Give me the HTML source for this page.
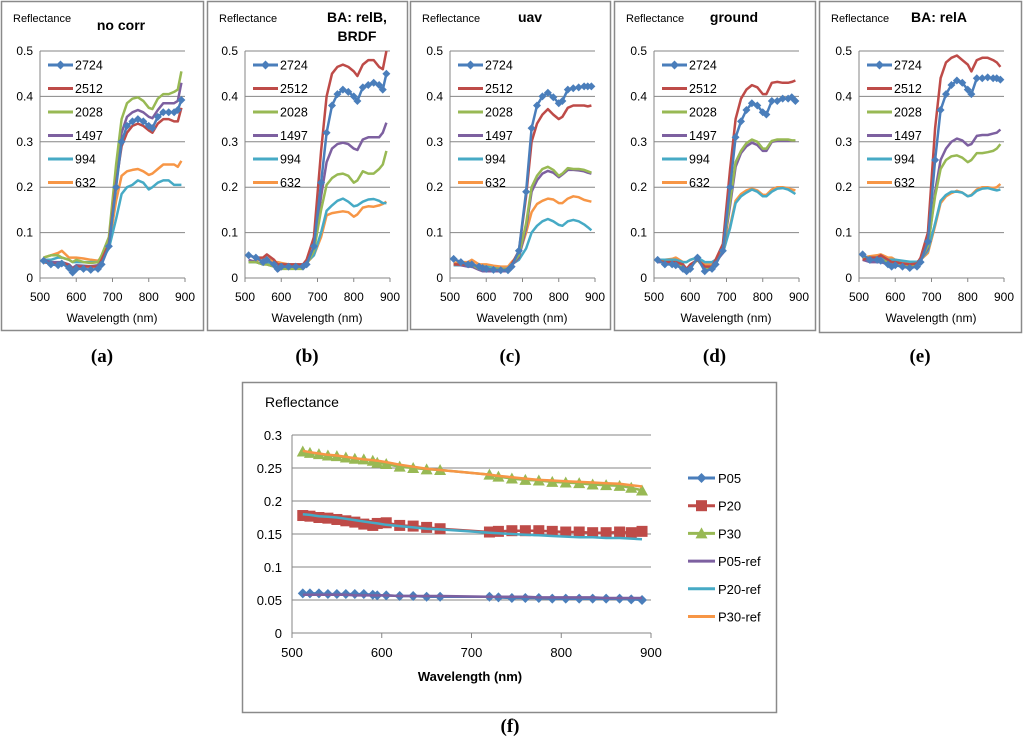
<!DOCTYPE html>
<html><head><meta charset="utf-8"><style>
body{margin:0;background:#fff;width:1024px;height:739px;overflow:hidden}
svg{display:block;font-family:"Liberation Sans",sans-serif}
</style></head><body>
<svg id="fig" width="1024" height="739" viewBox="0 0 1024 739"></svg>
<script>
const wl = [510,530,550,560,580,590,600,620,640,660,670,690,710,725,740,755,770,785,800,810,825,840,855,870,880,890];
const seriesNames = ["2724","2512","2028","1497","994","632"];
const panelTitles = [["no corr"],["BA: relB,","BRDF"],["uav"],["ground"],["BA: relA"]];
const panelLetters = ["(a)","(b)","(c)","(d)","(e)"];
const yTicks = [0,0.1,0.2,0.3,0.4,0.5];
const xTicks = [500,600,700,800,900];
const pA = [
[.038,.030,.028,.032,.022,.012,.020,.020,.018,.020,.030,.07,.20,.30,.335,.345,.350,.345,.335,.330,.355,.365,.365,.365,.370,.392],
[.035,.032,.030,.035,.028,.020,.025,.025,.025,.025,.04,.075,.21,.29,.32,.335,.34,.335,.325,.32,.34,.35,.35,.345,.345,.375],
[.045,.05,.05,.045,.04,.035,.04,.035,.033,.035,.05,.09,.25,.35,.385,.395,.398,.39,.375,.372,.395,.405,.405,.41,.415,.455],
[.04,.035,.035,.035,.03,.022,.028,.027,.026,.028,.045,.08,.23,.32,.355,.365,.37,.365,.355,.352,.37,.385,.385,.385,.39,.43],
[.04,.04,.045,.045,.04,.035,.035,.035,.035,.035,.04,.065,.13,.185,.20,.205,.215,.21,.195,.2,.21,.215,.215,.205,.205,.205],
[.045,.05,.055,.06,.045,.045,.045,.043,.04,.038,.045,.07,.17,.225,.235,.238,.24,.235,.227,.23,.24,.25,.25,.25,.245,.258]];
const pB = [
[.05,.045,.035,.04,.03,.02,.025,.025,.025,.025,.03,.07,.21,.32,.38,.405,.415,.41,.40,.39,.42,.425,.43,.425,.415,.45],
[.05,.045,.045,.052,.04,.03,.03,.03,.03,.03,.04,.09,.28,.40,.45,.465,.47,.465,.455,.445,.47,.48,.48,.465,.46,.50],
[.035,.035,.03,.03,.025,.02,.02,.02,.02,.02,.03,.06,.15,.205,.22,.228,.23,.225,.21,.215,.235,.23,.23,.24,.25,.28],
[.04,.035,.03,.03,.025,.015,.022,.022,.022,.022,.03,.065,.18,.255,.285,.295,.298,.295,.285,.282,.305,.31,.31,.31,.32,.342],
[.035,.035,.03,.033,.032,.03,.03,.03,.03,.03,.035,.05,.10,.148,.16,.17,.175,.168,.158,.16,.168,.173,.174,.17,.165,.165],
[.035,.038,.042,.045,.035,.035,.033,.03,.028,.027,.033,.05,.09,.138,.143,.145,.147,.145,.135,.14,.155,.158,.157,.16,.163,.168]];
const pC = [
[.042,.035,.03,.03,.025,.022,.02,.018,.017,.017,.025,.06,.19,.33,.38,.40,.408,.398,.385,.39,.415,.418,.42,.422,.422,.422],
[.03,.03,.03,.03,.025,.02,.02,.018,.017,.018,.03,.06,.18,.30,.34,.36,.372,.36,.35,.355,.375,.38,.38,.38,.378,.38],
[.03,.03,.03,.03,.02,.02,.02,.02,.02,.018,.03,.05,.12,.20,.225,.24,.245,.238,.225,.23,.242,.24,.24,.238,.235,.232],
[.03,.028,.025,.025,.018,.015,.015,.015,.015,.015,.028,.045,.11,.19,.215,.23,.236,.232,.222,.228,.238,.238,.237,.235,.232,.23],
[.028,.028,.03,.03,.025,.025,.025,.022,.02,.02,.03,.04,.065,.10,.115,.125,.13,.125,.117,.115,.125,.128,.125,.118,.112,.105],
[.033,.035,.035,.04,.03,.03,.03,.027,.025,.025,.035,.05,.10,.145,.163,.17,.175,.173,.165,.165,.175,.18,.178,.172,.17,.168]];
const pD = [
[.04,.03,.03,.028,.02,.015,.02,.045,.015,.02,.03,.06,.20,.31,.345,.37,.385,.38,.365,.36,.39,.39,.395,.395,.398,.39],
[.038,.035,.035,.035,.03,.02,.03,.04,.025,.025,.04,.075,.24,.35,.395,.415,.425,.42,.405,.405,.43,.432,.43,.43,.432,.435],
[.04,.035,.035,.035,.025,.02,.025,.04,.022,.022,.035,.06,.17,.255,.28,.297,.305,.3,.285,.285,.302,.305,.305,.305,.303,.303],
[.035,.035,.03,.032,.025,.018,.025,.04,.02,.022,.035,.055,.16,.245,.275,.29,.298,.293,.28,.28,.3,.302,.302,.302,.302,.302],
[.04,.04,.04,.04,.035,.035,.04,.045,.035,.035,.04,.055,.11,.165,.18,.188,.195,.19,.18,.18,.19,.197,.198,.195,.19,.185],
[.038,.04,.042,.045,.035,.035,.04,.045,.03,.03,.04,.055,.115,.17,.185,.193,.197,.193,.183,.183,.195,.2,.2,.198,.195,.193]];
const pE = [
[.052,.04,.04,.038,.03,.025,.028,.025,.022,.025,.035,.08,.26,.37,.405,.425,.435,.43,.415,.405,.44,.44,.442,.44,.44,.437],
[.04,.045,.045,.05,.04,.035,.035,.032,.03,.032,.045,.10,.33,.44,.475,.485,.49,.48,.47,.455,.48,.485,.485,.48,.475,.465],
[.045,.045,.04,.04,.035,.03,.03,.028,.027,.028,.04,.07,.18,.24,.26,.268,.27,.265,.255,.26,.275,.275,.277,.28,.285,.295],
[.04,.035,.035,.035,.03,.028,.028,.027,.027,.028,.04,.065,.19,.26,.285,.30,.307,.303,.292,.295,.313,.315,.315,.318,.32,.327],
[.045,.045,.045,.045,.04,.04,.04,.038,.036,.036,.04,.06,.12,.17,.183,.19,.19,.188,.18,.182,.192,.197,.198,.195,.193,.195],
[.045,.048,.05,.052,.045,.045,.04,.037,.035,.035,.04,.055,.115,.165,.18,.187,.192,.188,.18,.183,.195,.2,.2,.198,.2,.207]];
const panels = [pA,pB,pC,pD,pE];

const wlF = [512,520,530,540,550,560,570,580,590,595,605,620,635,650,665,720,730,745,760,775,790,805,820,835,850,865,878,890];
const fNames = ["P05","P20","P30","P05-ref","P20-ref","P30-ref"];
const fP05 = [.06,.06,.06,.059,.059,.059,.059,.059,.058,.057,.057,.056,.056,.055,.055,.055,.054,.053,.053,.053,.052,.052,.052,.052,.052,.052,.051,.05];
const fP20 = [.178,.177,.175,.174,.172,.170,.168,.165,.163,.166,.167,.163,.162,.160,.158,.153,.154,.155,.155,.155,.154,.153,.153,.152,.152,.153,.152,.154];
const fP30 = [.275,.273,.271,.269,.268,.266,.264,.263,.261,.258,.256,.252,.25,.248,.247,.24,.237,.234,.232,.231,.229,.228,.227,.225,.224,.223,.22,.216];
const fP05r = [.058,.058,.058,.058,.058,.058,.057,.057,.057,.057,.057,.056,.056,.056,.056,.055,.055,.055,.055,.054,.054,.054,.054,.054,.053,.053,.053,.053];
const fP20r = [.18,.179,.177,.176,.175,.173,.171,.169,.167,.166,.164,.162,.160,.158,.157,.152,.151,.150,.149,.148,.147,.146,.145,.145,.144,.144,.143,.142];
const fP30r = [.276,.274,.272,.270,.269,.267,.265,.263,.262,.261,.259,.255,.252,.249,.247,.24,.238,.236,.234,.232,.231,.230,.229,.228,.227,.226,.224,.222];
const fYTicks = [0,0.05,0.1,0.15,0.2,0.25,0.3];

const colors = ["#4a7ebb","#be4b48","#98b954","#7d60a0","#46aac5","#f79646"];
const NS = "http://www.w3.org/2000/svg";
const svg = document.getElementById("fig");
function mk(tag, attrs, parent){const e=document.createElementNS(NS,tag);for(const k in attrs)e.setAttribute(k,attrs[k]);(parent||svg).appendChild(e);return e;}
function txt(s, attrs, parent){const t=mk("text",attrs,parent);t.textContent=s;return t;}
function diamond(x,y,r){return `M${x},${y-r}L${x+r},${y}L${x},${y+r}L${x-r},${y}Z`;}

const boxes = [[1,1,202,329],[207,1,200,329],[410,1,200,328],[614,1,201,329],[819,1,202,331]];
const lefts = [40,245,450,654,859];
for (let p=0;p<5;p++){
  const g = mk("g",{});
  
  
  const b=boxes[p];
  const box=mk("rect",{x:b[0]+.5,y:b[1]+.5,width:b[2],height:b[3],fill:"none",stroke:"#8a8a8a","stroke-width":1.5},g);
  
  
  const L=lefts[p], R=L+145, Y0=278, Y1=51;
  const xs=v=>L+(v-500)/400*(R-L);
  const ys=v=>Y0-(v/0.5)*(Y0-Y1);
  for(const t of yTicks){
    const gl=mk("line",{x1:L,x2:R,y1:ys(t),y2:ys(t),stroke:"#868686","stroke-width":1},g);
    
    
    const tl=txt(String(t),{x:L-7,y:ys(t)+4,"text-anchor":"end","font-size":12,fill:"#000"},g);
    
    
  }
  mk("line",{x1:L,x2:L,y1:Y1,y2:Y0,stroke:"#868686"},g);
  for(const t of xTicks){
    mk("line",{x1:xs(t),x2:xs(t),y1:Y0,y2:Y0+4,stroke:"#868686"},g);
    const tl=txt(String(t),{x:xs(t),y:Y0+23,"text-anchor":"middle","font-size":12},g);
    
    
  }
  const xl=txt("Wavelength (nm)",{x:L+72,y:322,"text-anchor":"middle","font-size":12},g);
  
  
  const yl=txt("Reflectance",{x:b[0]+12,y:22,"font-size":11},g);
  
  
  const tt=panelTitles[p];
  tt.forEach((s,i)=>{
    const tx = tt.length>1 ? b[0]+150 : b[0]+120;
    const t=txt(s,{x:tx,y:(p===0?30:22)+i*19,"text-anchor":"middle","font-size":14,"font-weight":"bold"},g);
    
    
  });
  const data=panels[p];
  for(let s=5;s>=0;s--){
    const d=data[s].map((v,i)=>(i?"L":"M")+xs(wl[i]).toFixed(1)+","+ys(v).toFixed(1)).join("");
    const path=mk("path",{d:d,fill:"none",stroke:colors[s],"stroke-width":2.5,"stroke-linejoin":"round"},g);
    
    
  }
  data[0].forEach((v,i)=>{
    const m=mk("path",{d:diamond(xs(wl[i]),ys(v),4),fill:colors[0]},g);
    
    
  });
  const lg=mk("g",{},g);
  
  
  seriesNames.forEach((n,i)=>{
    const y=65+i*23.5, x0=L+8;
    mk("line",{x1:x0,x2:x0+25,y1:y,y2:y,stroke:colors[i],"stroke-width":3},lg);
    if(i===0) mk("path",{d:diamond(x0+12.5,y,4.5),fill:colors[0]},lg);
    const t=txt(n,{x:x0+27,y:y+4.5,"font-size":12.5},lg);
    
    
  });
  const lt=txt(panelLetters[p],{x:b[0]+b[2]/2,y:362,"text-anchor":"middle","font-size":19,"font-family":"Liberation Serif, serif","font-weight":"bold"});
  
  
}

// panel f
(function(){
  const g=mk("g",{});
  
  
  const bx=mk("rect",{x:242.5,y:382.5,width:534,height:330,fill:"none",stroke:"#8a8a8a","stroke-width":1.5},g);
  
  
  const L=292,R=651,Y0=633,Y1=435;
  const xs=v=>L+(v-500)/400*(R-L);
  const ys=v=>Y0-(v/0.3)*(Y0-Y1);
  for(const t of fYTicks){
    const gl=mk("line",{x1:L,x2:R,y1:ys(t),y2:ys(t),stroke:"#868686"},g);
    
    
    const tl=txt(String(t),{x:L-10,y:ys(t)+5,"text-anchor":"end","font-size":13},g);
    
    
  }
  mk("line",{x1:L,x2:L,y1:Y1,y2:Y0,stroke:"#868686"},g);
  for(const t of xTicks){
    mk("line",{x1:xs(t),x2:xs(t),y1:Y0,y2:Y0+5,stroke:"#868686"},g);
    const tl=txt(String(t),{x:xs(t),y:Y0+24,"text-anchor":"middle","font-size":13},g);
    
    
  }
  const xl=txt("Wavelength (nm)",{x:470,y:681,"text-anchor":"middle","font-size":13,"font-weight":"bold"},g);
  
  
  const yl=txt("Reflectance",{x:265,y:407,"font-size":14},g);
  
  
  const sets=[fP05,fP20,fP30,fP05r,fP20r,fP30r];
  const mark=(k,x,y)=>{
    if(k===0) return diamond(x,y,5);
    if(k===1) return `M${x-5.5},${y-5.5}h11v11h-11Z`;
    return `M${x},${y-6}L${x+6},${y+5}L${x-6},${y+5}Z`;
  };
  for(let k=0;k<3;k++){
    const d=sets[k].map((v,i)=>(i?"L":"M")+xs(wlF[i]).toFixed(1)+","+ys(v).toFixed(1)).join("");
    const p=mk("path",{d:d,fill:"none",stroke:colors[k],"stroke-width":2.5},g);
    
    
    sets[k].forEach((v,i)=>{
      const m=mk("path",{d:mark(k,xs(wlF[i]),ys(v)),fill:colors[k]},g);
      
      
    });
  }
  for(let k=3;k<6;k++){
    const d=sets[k].map((v,i)=>(i?"L":"M")+xs(wlF[i]).toFixed(1)+","+ys(v).toFixed(1)).join("");
    const p=mk("path",{d:d,fill:"none",stroke:colors[k],"stroke-width":2.5},g);
    
    
  }
  const lg=mk("g",{},g);
  
  
  fNames.forEach((n,i)=>{
    const y=478+i*27.7;
    mk("line",{x1:688,x2:715,y1:y,y2:y,stroke:colors[i],"stroke-width":3},lg);
    if(i<3) mk("path",{d:mark(i,701.5,y),fill:colors[i]},lg);
    const t=txt(n,{x:718,y:y+5,"font-size":13},lg);
    
    
  });
  const lt=txt("(f)",{x:510,y:732,"text-anchor":"middle","font-size":19,"font-family":"Liberation Serif, serif","font-weight":"bold"});
  
  
})();
</script>
</body></html>
